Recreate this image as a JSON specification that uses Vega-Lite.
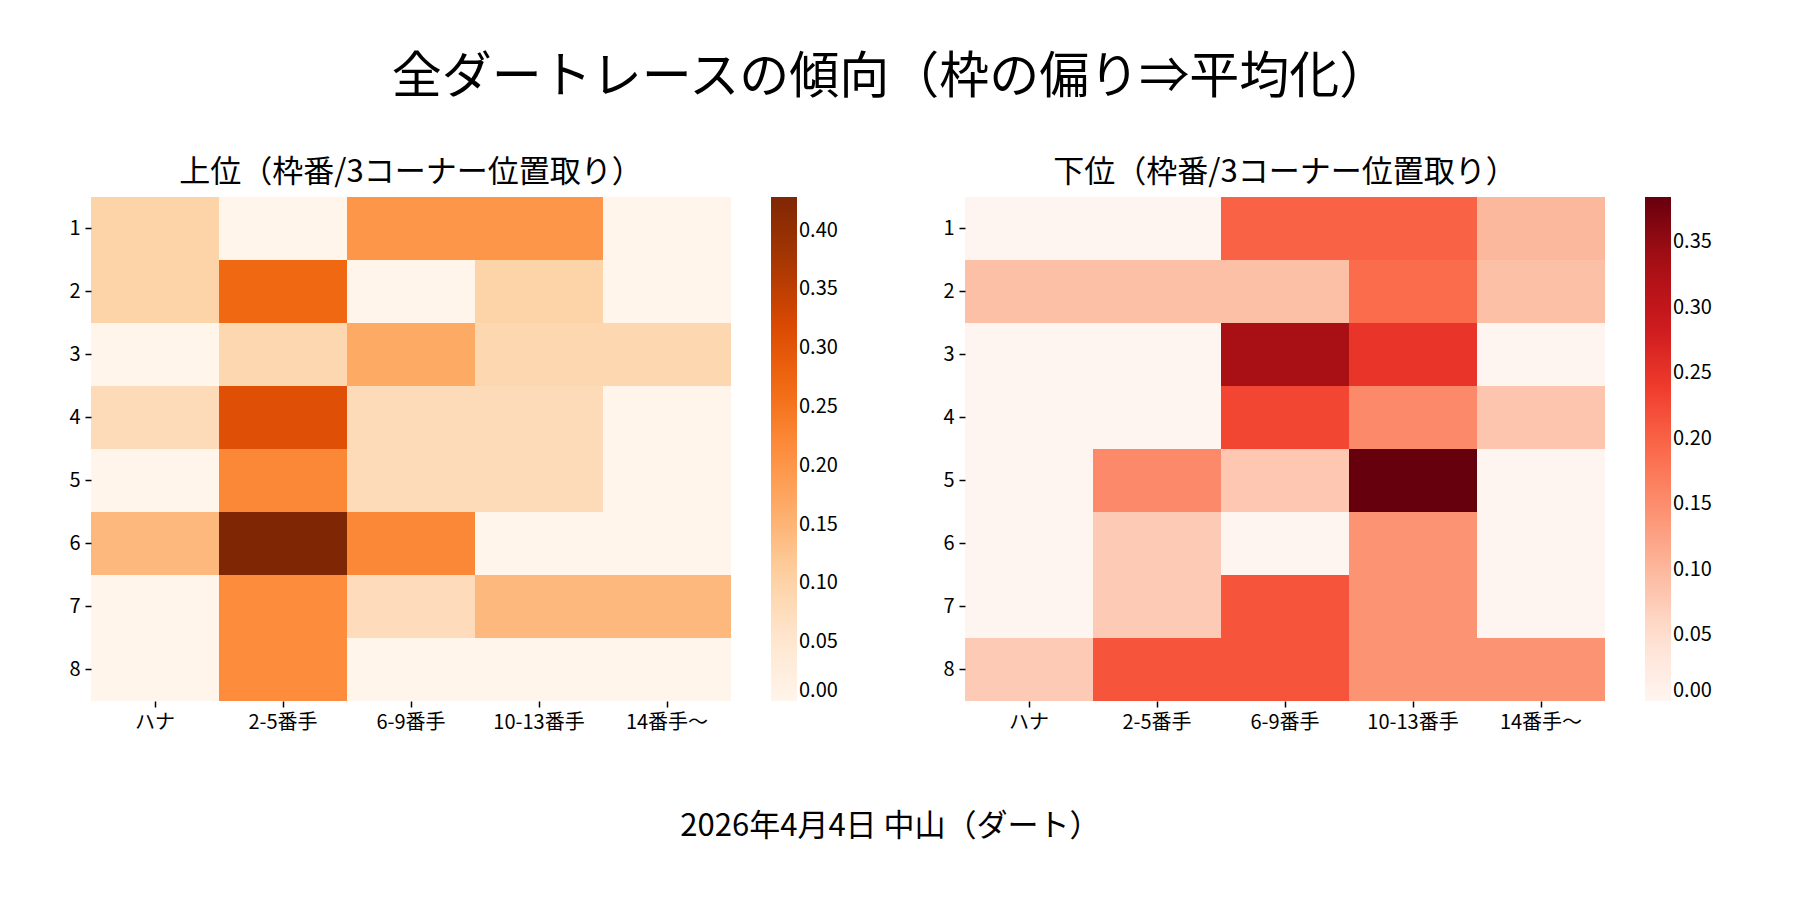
{
  "$schema": "https://vega.github.io/schema/vega-lite/v6.json",
  "description": "全ダートレースの傾向 heatmaps",
  "background": "white",
  "padding": {"left": 68, "top": 53, "right": 10, "bottom": 10},
  "title": {"text": "全ダートレースの傾向（枠の偏り⇒平均化）", "fontSize": 50, "fontWeight": "normal", "anchor": "middle", "offset": 54},
  "datasets": {
    "upper": [
      {"f": 1, "p": "ハナ", "v": 0.1}, {"f": 1, "p": "2-5番手", "v": 0}, {"f": 1, "p": "6-9番手", "v": 0.2}, {"f": 1, "p": "10-13番手", "v": 0.2}, {"f": 1, "p": "14番手〜", "v": 0},
      {"f": 2, "p": "ハナ", "v": 0.1}, {"f": 2, "p": "2-5番手", "v": 0.27}, {"f": 2, "p": "6-9番手", "v": 0}, {"f": 2, "p": "10-13番手", "v": 0.1}, {"f": 2, "p": "14番手〜", "v": 0},
      {"f": 3, "p": "ハナ", "v": 0}, {"f": 3, "p": "2-5番手", "v": 0.09}, {"f": 3, "p": "6-9番手", "v": 0.167}, {"f": 3, "p": "10-13番手", "v": 0.09}, {"f": 3, "p": "14番手〜", "v": 0.09},
      {"f": 4, "p": "ハナ", "v": 0.08}, {"f": 4, "p": "2-5番手", "v": 0.308}, {"f": 4, "p": "6-9番手", "v": 0.08}, {"f": 4, "p": "10-13番手", "v": 0.08}, {"f": 4, "p": "14番手〜", "v": 0},
      {"f": 5, "p": "ハナ", "v": 0}, {"f": 5, "p": "2-5番手", "v": 0.222}, {"f": 5, "p": "6-9番手", "v": 0.08}, {"f": 5, "p": "10-13番手", "v": 0.08}, {"f": 5, "p": "14番手〜", "v": 0},
      {"f": 6, "p": "ハナ", "v": 0.143}, {"f": 6, "p": "2-5番手", "v": 0.4286}, {"f": 6, "p": "6-9番手", "v": 0.222}, {"f": 6, "p": "10-13番手", "v": 0}, {"f": 6, "p": "14番手〜", "v": 0},
      {"f": 7, "p": "ハナ", "v": 0}, {"f": 7, "p": "2-5番手", "v": 0.214}, {"f": 7, "p": "6-9番手", "v": 0.077}, {"f": 7, "p": "10-13番手", "v": 0.143}, {"f": 7, "p": "14番手〜", "v": 0.143},
      {"f": 8, "p": "ハナ", "v": 0}, {"f": 8, "p": "2-5番手", "v": 0.214}, {"f": 8, "p": "6-9番手", "v": 0}, {"f": 8, "p": "10-13番手", "v": 0}, {"f": 8, "p": "14番手〜", "v": 0}
    ],
    "lower": [
      {"f": 1, "p": "ハナ", "v": 0}, {"f": 1, "p": "2-5番手", "v": 0}, {"f": 1, "p": "6-9番手", "v": 0.2}, {"f": 1, "p": "10-13番手", "v": 0.2}, {"f": 1, "p": "14番手〜", "v": 0.1},
      {"f": 2, "p": "ハナ", "v": 0.09}, {"f": 2, "p": "2-5番手", "v": 0.09}, {"f": 2, "p": "6-9番手", "v": 0.09}, {"f": 2, "p": "10-13番手", "v": 0.19}, {"f": 2, "p": "14番手〜", "v": 0.09},
      {"f": 3, "p": "ハナ", "v": 0}, {"f": 3, "p": "2-5番手", "v": 0}, {"f": 3, "p": "6-9番手", "v": 0.333}, {"f": 3, "p": "10-13番手", "v": 0.25}, {"f": 3, "p": "14番手〜", "v": 0},
      {"f": 4, "p": "ハナ", "v": 0}, {"f": 4, "p": "2-5番手", "v": 0}, {"f": 4, "p": "6-9番手", "v": 0.23}, {"f": 4, "p": "10-13番手", "v": 0.154}, {"f": 4, "p": "14番手〜", "v": 0.083},
      {"f": 5, "p": "ハナ", "v": 0}, {"f": 5, "p": "2-5番手", "v": 0.154}, {"f": 5, "p": "6-9番手", "v": 0.08}, {"f": 5, "p": "10-13番手", "v": 0.3846}, {"f": 5, "p": "14番手〜", "v": 0},
      {"f": 6, "p": "ハナ", "v": 0}, {"f": 6, "p": "2-5番手", "v": 0.077}, {"f": 6, "p": "6-9番手", "v": 0}, {"f": 6, "p": "10-13番手", "v": 0.143}, {"f": 6, "p": "14番手〜", "v": 0},
      {"f": 7, "p": "ハナ", "v": 0}, {"f": 7, "p": "2-5番手", "v": 0.077}, {"f": 7, "p": "6-9番手", "v": 0.214}, {"f": 7, "p": "10-13番手", "v": 0.143}, {"f": 7, "p": "14番手〜", "v": 0},
      {"f": 8, "p": "ハナ", "v": 0.077}, {"f": 8, "p": "2-5番手", "v": 0.214}, {"f": 8, "p": "6-9番手", "v": 0.214}, {"f": 8, "p": "10-13番手", "v": 0.143}, {"f": 8, "p": "14番手〜", "v": 0.143}
    ]
  },
  "vconcat": [
    {
      "title": {"text": "2026年4月4日 中山（ダート）", "orient": "bottom", "fontSize": 31, "fontWeight": "normal", "anchor": "middle", "offset": 80},
      "hconcat": [
        {
          "title": {"text": "上位（枠番/3コーナー位置取り）", "fontSize": 31, "fontWeight": "normal", "offset": 8},
          "width": 640,
          "height": 504,
          "data": {"name": "upper"},
          "mark": {"type": "rect"},
          "encoding": {
            "x": {"field": "p", "type": "ordinal", "sort": ["ハナ", "2-5番手", "6-9番手", "10-13番手", "14番手〜"], "axis": {"orient": "bottom"}},
            "y": {"field": "f", "type": "ordinal"},
            "color": {
              "field": "v", "type": "quantitative",
              "scale": {
                "domain": [0, 0.0536, 0.1072, 0.1607, 0.2143, 0.2679, 0.3215, 0.375, 0.4286],
                "range": ["#fff5eb", "#fee6ce", "#fdd0a2", "#fdae6b", "#fd8d3c", "#f16913", "#d94801", "#a63603", "#7f2704"],
                "interpolate": "rgb"
              },
              "legend": {"values": [0, 0.05, 0.1, 0.15, 0.2, 0.25, 0.3, 0.35, 0.4]}
            }
          }
        },
        {
          "title": {"text": "下位（枠番/3コーナー位置取り）", "fontSize": 31, "fontWeight": "normal", "offset": 8},
          "width": 640,
          "height": 504,
          "data": {"name": "lower"},
          "mark": {"type": "rect"},
          "encoding": {
            "x": {"field": "p", "type": "ordinal", "sort": ["ハナ", "2-5番手", "6-9番手", "10-13番手", "14番手〜"], "axis": {"orient": "bottom"}},
            "y": {"field": "f", "type": "ordinal"},
            "color": {
              "field": "v", "type": "quantitative",
              "scale": {
                "domain": [0, 0.0481, 0.0962, 0.1442, 0.1923, 0.2404, 0.2885, 0.3365, 0.3846],
                "range": ["#fff5f0", "#fee0d2", "#fcbba1", "#fc9272", "#fb6a4a", "#ef3b2c", "#cb181d", "#a50f15", "#67000d"],
                "interpolate": "rgb"
              },
              "legend": {"values": [0, 0.05, 0.1, 0.15, 0.2, 0.25, 0.3, 0.35]}
            }
          }
        }
      ],
      "spacing": 104,
      "resolve": {"scale": {"color": "independent"}}
    }
  ],
  "config": {
    "font": "Noto Sans CJK JP",
    "view": {"stroke": null},
    "title": {"color": "black", "font": "Noto Sans CJK JP"},
    "axis": {
      "title": null, "domain": false, "grid": false, "labelAngle": 0,
      "labelFontSize": 20, "labelColor": "black", "labelFont": "Noto Sans CJK JP",
      "tickColor": "black", "tickSize": 6, "tickWidth": 1.5, "labelPadding": 5
    },
    "legend": {
      "title": null, "orient": "right", "offset": 40, "direction": "vertical",
      "gradientLength": 504, "gradientThickness": 26, "gradientStrokeWidth": 0,
      "labelFontSize": 20, "labelColor": "black", "labelFont": "Noto Sans CJK JP",
      "labelOverlap": false, "labelBaseline": "middle", "labelOffset": 20, "format": ".2f"
    }
  }
}
